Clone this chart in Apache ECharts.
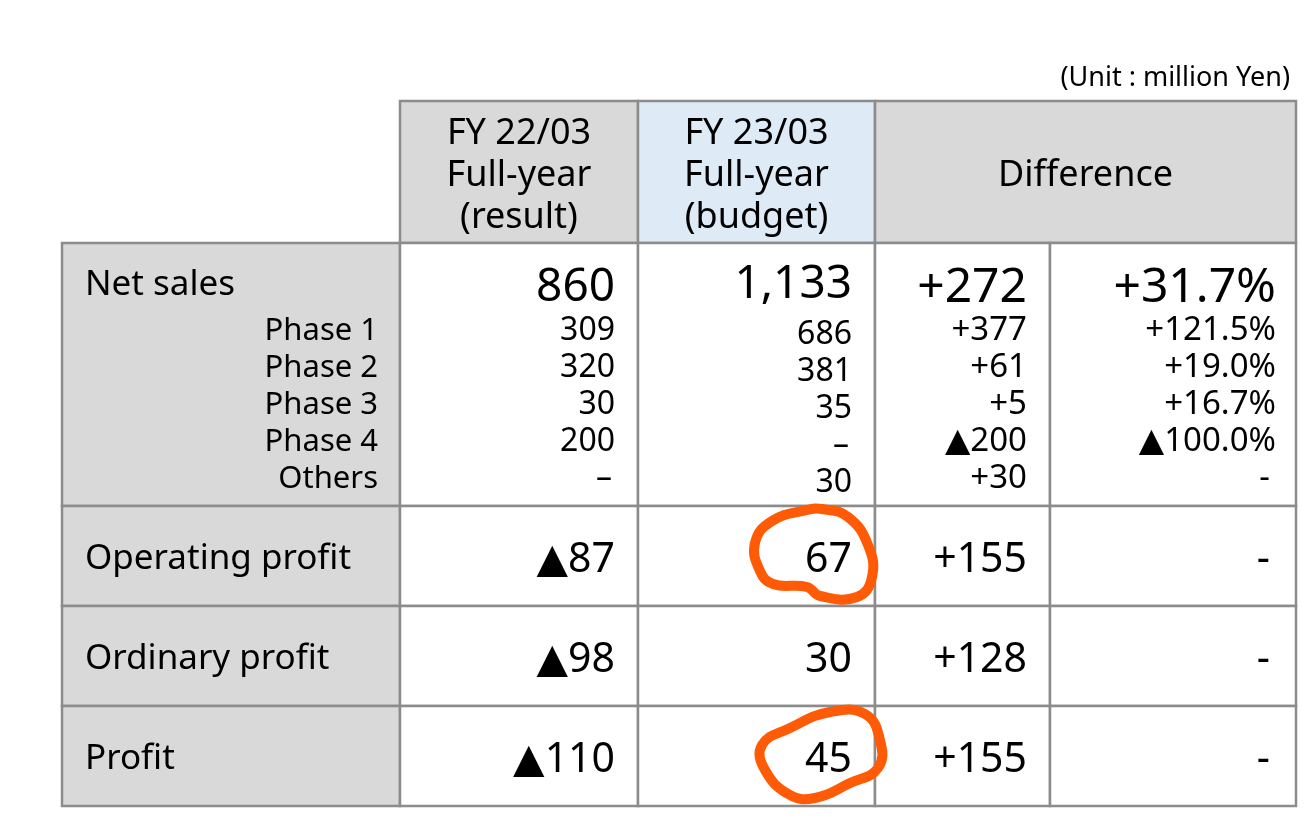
<!DOCTYPE html>
<html><head><meta charset="utf-8">
<script src="https://cdn.jsdelivr.net/npm/echarts@6/dist/echarts.min.js"></script>
<style>html,body{margin:0;padding:0;background:#fff}#c{width:1311px;height:817px}</style>
</head><body><div id="c"></div>
<script>
// ---------- data ----------
const headers = ['FY 22/03\nFull-year\n(result)', 'FY 23/03\nFull-year\n(budget)', 'Difference'];
const rowLabels = ['Net sales', 'Operating profit', 'Ordinary profit', 'Profit'];
const subLabels = ['Phase 1', 'Phase 2', 'Phase 3', 'Phase 4', 'Others'];
const resultMain = ['860', '▲87', '▲98', '▲110'];
const resultSub = ['309', '320', '30', '200', '–'];
const budgetMain = ['1,133', '67', '30', '45'];
const budgetSub = ['686', '381', '35', '–', '30'];
const diffMain = ['+272', '+155', '+128', '+155'];
const diffSub = ['+377', '+61', '+5', '▲200', '+30'];
const pctMain = ['+31.7%', '-', '-', '-'];
const pctSub = ['+121.5%', '+19.0%', '+16.7%', '▲100.0%', '-'];
const unitLabel = '(Unit : million Yen)';
const circledRows = [1, 3]; // budget cells circled by hand (67 and 45)

// ---------- layout (not data) ----------
const colEdges = [0, 338, 576, 813, 988, 1234];
const rowEdges = [0, 142, 405, 505, 605, 705];
const FONT = '"Noto Sans", "DejaVu Sans", sans-serif';
const GRAY = '#d9d9d9', BLUE = '#deebf7', LINE = '#8c8c8c', INK = '#000000', ORANGE = '#ff5a05';
const DY = 3;

// cells: [x0, x1, y0, y1, fill]
const cells = [];
cells.push([colEdges[1], colEdges[2], rowEdges[0], rowEdges[1], GRAY]);
cells.push([colEdges[2], colEdges[3], rowEdges[0], rowEdges[1], BLUE]);
cells.push([colEdges[3], colEdges[5], rowEdges[0], rowEdges[1], GRAY]);
for (let r = 1; r <= rowLabels.length; r++) {
  cells.push([colEdges[0], colEdges[1], rowEdges[r], rowEdges[r + 1], GRAY]);
  for (let c = 1; c < 5; c++) cells.push([colEdges[c], colEdges[c + 1], rowEdges[r], rowEdges[r + 1], '#ffffff']);
}

// texts: [x, y, text, align, fontSize, dx, dy]
const texts = [];
headers.forEach((h, i) => {
  const x0 = colEdges[i + 1], x1 = i === 2 ? colEdges[5] : colEdges[i + 2];
  texts.push([(x0 + x1) / 2, (rowEdges[0] + rowEdges[1]) / 2, h, 'center', 36, 0, 1 + DY]);
});
const mainCols = [resultMain, budgetMain, diffMain, pctMain];
rowLabels.forEach((lab, r) => {
  const top = rowEdges[r + 1], bot = rowEdges[r + 2];
  const yc = r === 0 ? top + 39 : (top + bot) / 2;
  texts.push([colEdges[0], yc, lab, 'left', 35, 23, DY]);
  mainCols.forEach((arr, c) => {
    let fs = r === 0 ? 46 : 41;
    if (r === 0 && c >= 2) fs = 48;
    const dy = (r === 0 ? (c === 1 ? 0 : 3) : 1) + DY;
    const dx = c === 3 ? (arr[r] === '-' ? -26 : -20) : -23;
    texts.push([colEdges[c + 2], yc, arr[r], 'right', fs, dx, dy]);
  });
});
const subCols = [resultSub, budgetSub, diffSub, pctSub];
subLabels.forEach((lab, i) => {
  const yc = rowEdges[1] + 85 + 37 * i;
  texts.push([colEdges[1], yc, lab, 'right', 31, -22, DY]);
  subCols.forEach((arr, c) => {
    const dy = (c === 1 ? 4 : 0) + DY;
    let dx = c === 3 ? -20 : -23;
    if (arr[i] === '–') dx -= 3;
    if (arr[i] === '-') dx = -26;
    texts.push([colEdges[c + 2], yc, arr[i], 'right', c >= 2 ? 33 : 32, dx, dy]);
  });
});

// hand-drawn circles, offsets in px relative to value anchor (right edge, centre)
const circleShapes = {
  1: [[-45,-47],[-80,-36],[-97,-14],[-92,14],[-79,27],[-45,30],[-32,39],[5,40],[20,20],[16,-12],[-4,-40],[-30,-48]],
  3: [[13,-43],[-22,-45],[-62,-29],[-90,-12],[-87,13],[-62,38],[-37,41],[-2,26],[26,11],[28,-17]]
};
const circles = circledRows.map(r => [colEdges[3], (rowEdges[r + 1] + rowEdges[r + 2]) / 2, r]);

const chart = echarts.init(document.getElementById('c'), null, { renderer: 'canvas' });
chart.setOption({
  backgroundColor: '#ffffff',
  animation: false,
  title: {
    text: unitLabel, right: 16, top: 60,
    textStyle: { fontFamily: FONT, fontSize: 27, fontWeight: 'normal', color: INK }
  },
  grid: { left: 62, top: 101, width: 1234, height: 705 },
  xAxis: { type: 'value', min: 0, max: 1234, show: false },
  yAxis: { type: 'value', min: 0, max: 705, inverse: true, show: false },
  series: [
    {
      type: 'custom', data: cells, silent: true,
      renderItem: (params, api) => {
        const p0 = api.coord([api.value(0), api.value(2)]);
        const p1 = api.coord([api.value(1), api.value(3)]);
        return {
          type: 'rect',
          shape: { x: p0[0], y: p0[1], width: p1[0] - p0[0], height: p1[1] - p0[1] },
          style: { fill: cells[params.dataIndex][4], stroke: LINE, lineWidth: 2.5 }
        };
      }
    },
    {
      type: 'custom', data: texts, silent: true,
      renderItem: (params, api) => {
        const t = texts[params.dataIndex];
        const p = api.coord([t[0], t[1]]);
        return {
          type: 'text',
          style: {
            x: p[0] + t[5], y: p[1] + t[6], text: t[2],
            align: t[3], verticalAlign: 'middle',
            fontFamily: FONT, fontSize: t[4], lineHeight: 42, fill: INK
          }
        };
      }
    },
    {
      type: 'custom', data: circles, silent: true, z: 5,
      renderItem: (params, api) => {
        const c = circles[params.dataIndex];
        const p = api.coord([c[0], c[1]]);
        const ax = p[0] - 23, ay = p[1] + 1;
        const pts = circleShapes[c[2]].map(o => [ax + o[0], ay + o[1]]);
        return {
          type: 'polygon',
          shape: { points: pts, smooth: 0.45 },
          style: { fill: 'none', stroke: ORANGE, lineWidth: 10, lineJoin: 'round', lineCap: 'round' }
        };
      }
    }
  ]
});
</script></body></html>
